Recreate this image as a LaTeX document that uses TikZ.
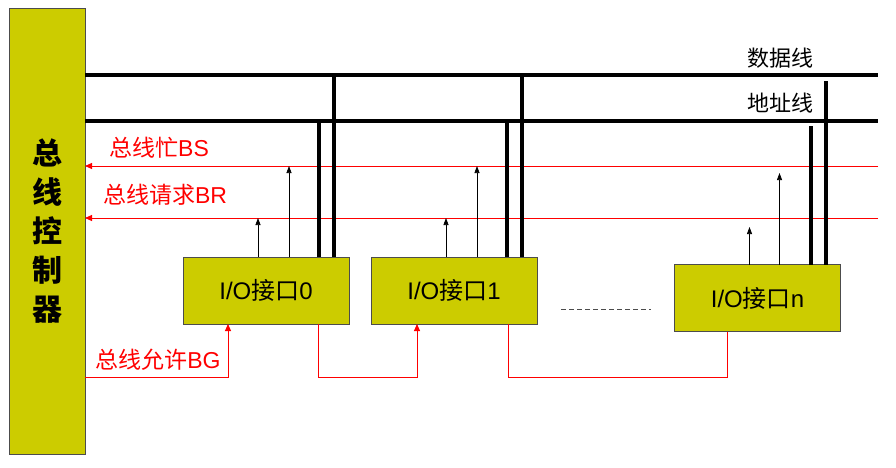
\documentclass[tikz,border=0pt]{standalone}
\usepackage{fontspec}
\setmainfont{Liberation Sans}
\newfontfamily\cjk{Noto Sans CJK SC}
\usetikzlibrary{positioning,arrows.meta}
\definecolor{boxyellow}{RGB}{204,204,0}

\begin{document}
\begin{tikzpicture}
    [
      x=1pt, y=-1pt,
      every node/.style = {inner sep=0pt, outer sep=0pt},
      unit/.style = {draw=black!70, fill=boxyellow, minimum width=166pt, minimum height=67pt,
                     font=\fontsize{24}{28}\selectfont},
      bus/.style = {line width=4pt},
      sig/.style = {red, line width=0.9pt, -{Triangle[length=7pt,width=6pt]}},
      ask/.style = {line width=0.7pt, -{Triangle[length=7pt,width=5pt]}},
      lbl/.style = {red, font=\fontsize{23}{28}\selectfont}
    ]

    \useasboundingbox (0,0) rectangle (896,468);

    % bus controller
    \node[draw=black!70, fill=boxyellow, minimum width=76pt, minimum height=446pt, align=center,
          font=\cjk\bfseries\fontsize{30}{39}\selectfont] (ctl) at (47,231) {总\\线\\控\\制\\器};

    % bus lines
    \coordinate (dat) at (878,75);
    \coordinate (adr) at (878,121);
    \coordinate (bs) at (878,166);
    \coordinate (br) at (878,218);
    \coordinate (low) at (0,377);
    \draw[bus] (ctl.east |- dat) -- (dat);
    \draw[bus] (ctl.east |- adr) -- (adr);
    \draw[sig] (bs) -- (ctl.east |- bs);
    \draw[sig] (br) -- (ctl.east |- br);

    \node[font=\cjk\fontsize{22}{26}\selectfont] (ldat) at (780,58) {数据线};
    \node[font=\cjk\fontsize{22}{26}\selectfont] (ladr) at (780,103) {地址线};
    \node[lbl] (lbs) at (159,148) {{\cjk 总线忙}BS};
    \node[lbl] (lbr) at (165,195) {{\cjk 总线请求}BR};
    \node[lbl] (lbg) at (158,360) {{\cjk 总线允许}BG};

    % interfaces
    \node[unit] (io0) at (266,290.5) {I/O{\cjk 接口}0};
    \node[unit, right=22pt of io0] (io1) {I/O{\cjk 接口}1};
    \node[unit] (ion) at (757.5,298) {I/O{\cjk 接口}n};

    \foreach \u in {io0,io1}{
      \path ([xshift=75pt]\u.north west) coordinate (a1)
            ([xshift=106pt]\u.north west) coordinate (a2)
            ([xshift=136pt]\u.north west) coordinate (a3)
            ([xshift=151pt]\u.north west) coordinate (a4);
      \draw[ask] (a1) -- (a1 |- br);
      \draw[ask] (a2) -- (a2 |- bs);
      \draw[bus] (a3) -- (a3 |- adr);
      \draw[bus] (a4) -- (a4 |- dat);
    }
    \path ([xshift=75pt]ion.north west) coordinate (n1)
          ([xshift=105pt]ion.north west) coordinate (n2)
          ([xshift=136pt]ion.north west) coordinate (n3)
          ([xshift=151pt]ion.north west) coordinate (n4);
    \draw[ask, shorten >=9pt] (n1) -- (n1 |- br);
    \draw[ask, shorten >=7pt] (n2) -- (n2 |- bs);
    \draw[bus, shorten >=5pt] (n3) -- (n3 |- adr);
    \draw[bus, shorten >=6pt] (n4) -- (n4 |- dat);

    % grant chain
    \draw[sig] (ctl.east |- low) -| ([xshift=45pt]io0.south west);
    \draw[sig] ([xshift=135pt]io0.south west) -- ++(0,53) -| ([xshift=46pt]io1.south west);
    \draw[red, line width=0.9pt] ([xshift=137pt]io1.south west) -- ++(0,53) -| ([xshift=53pt]ion.south west);

    \coordinate (gap0) at (561,309);
    \coordinate (gap1) at (651,309);
    \draw[black!70, line width=0.8pt, dash pattern=on 5pt off 3pt] (gap0) -- (gap1);
\end{tikzpicture}
\end{document}
